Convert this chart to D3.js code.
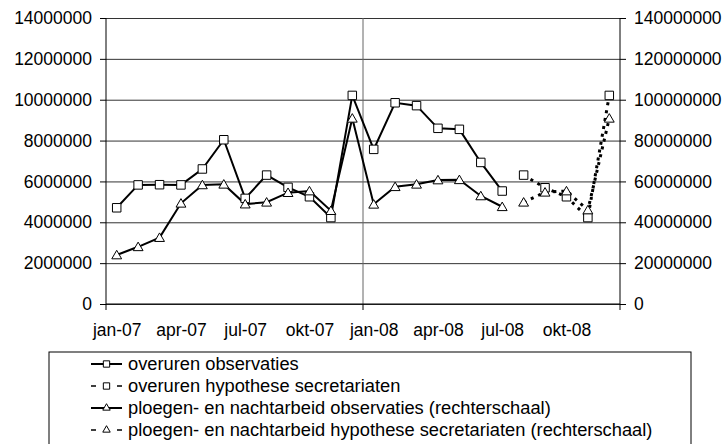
<!DOCTYPE html>
<html lang="nl">
<head>
<meta charset="UTF-8">
<title>Overuren en ploegen- en nachtarbeid</title>
<script src="https://d3js.org/d3.v7.min.js"></script>
<style>
    body { margin: 0; background: #fff; }
    svg text { font-family: "Liberation Sans", Arial, sans-serif; font-size: 17.5px; fill: #000; }
    .legend text { font-size: 18.3px; }
</style>
</head>
<body>
<svg id="chart"></svg>
<script>
    const months = ["jan-07", "feb-07", "mrt-07", "apr-07", "mei-07", "jun-07", "jul-07", "aug-07", "sep-07", "okt-07", "nov-07", "dec-07",
        "jan-08", "feb-08", "mrt-08", "apr-08", "mei-08", "jun-08", "jul-08", "aug-08", "sep-08", "okt-08", "nov-08", "dec-08"];
    const labelMonths = ["jan-07", "apr-07", "jul-07", "okt-07", "jan-08", "apr-08", "jul-08", "okt-08"];
    const leftTicks = [0, 2000000, 4000000, 6000000, 8000000, 10000000, 12000000, 14000000];
    const rightTicks = [0, 20000000, 40000000, 60000000, 80000000, 100000000, 120000000, 140000000];

    // linkerschaal
    const overurenObs = [4710000, 5830000, 5840000, 5830000, 6610000, 8040000, 5170000, 6310000, 5710000, 5250000, 4230000, 10210000,
        7570000, 9850000, 9710000, 8600000, 8550000, 6930000, 5530000, null, null, null, null, null];
    const overurenHyp = [null, null, null, null, null, null, null, null, null, null, null, null,
        null, null, null, null, null, null, null, 6310000, 5690000, 5250000, 4230000, 10210000];
    // rechterschaal
    const ploegenObs = [24000000, 28000000, 32500000, 49300000, 58300000, 58600000, 48900000, 49800000, 54500000, 55300000, 45700000, 90900000,
        48800000, 57400000, 58600000, 60700000, 60800000, 52900000, 47600000, null, null, null, null, null];
    const ploegenHyp = [null, null, null, null, null, null, null, null, null, null, null, null,
        null, null, null, null, null, null, null, 49800000, 54700000, 55300000, 46000000, 90900000];

    const legendLabels = ["overuren observaties", "overuren hypothese secretariaten",
        "ploegen- en nachtarbeid observaties (rechterschaal)", "ploegen- en nachtarbeid hypothese secretariaten (rechterschaal)"];

    const W = 727, H = 444;
    const margin = { top: 18, right: 107, bottom: 140, left: 106 };
    const width = W - margin.left - margin.right,
        height = H - margin.top - margin.bottom;

    const svg = d3.select("#chart").attr("width", W).attr("height", H);
    const g = svg.append("g").attr("transform", "translate(" + margin.left + "," + margin.top + ")");

    const x = d3.scalePoint().domain(months).range([0, width]).padding(0.5);
    const step = x.step();
    const yL = d3.scaleLinear().domain([0, 14000000]).range([height, 0]);
    const yR = d3.scaleLinear().domain([0, 140000000]).range([height, 0]);

    // horizontale rasterlijnen
    g.append("g")
        .call(d3.axisLeft(yL).tickValues(leftTicks).tickSize(-width).tickFormat(""))
        .call(s => s.select(".domain").remove())
        .selectAll("line").attr("stroke", "#333");

    // jaarscheiding
    const yearEdges = [0, 12, 24].map(i => i < 24 ? x(months[i]) - step / 2 : x(months[23]) + step / 2);
    g.append("line")
        .attr("x1", yearEdges[1]).attr("x2", yearEdges[1])
        .attr("y1", 0).attr("y2", height)
        .attr("stroke", "#666");

    // x-as
    g.append("line").attr("x1", 0).attr("x2", width).attr("y1", height).attr("y2", height).attr("stroke", "#000");
    g.selectAll(".ytick").data(yearEdges).enter().append("line")
        .attr("x1", d => d).attr("x2", d => d)
        .attr("y1", height).attr("y2", height + 6)
        .attr("stroke", "#000");
    const xAxis = g.append("g")
        .attr("transform", "translate(0," + height + ")")
        .call(d3.axisBottom(x).tickValues(labelMonths).tickSize(0).tickPadding(20));
    xAxis.select(".domain").remove();

    // linker as
    const la = g.append("g")
        .call(d3.axisLeft(yL).tickValues(leftTicks).tickSize(6).tickPadding(8).tickFormat(d3.format("d")));
    la.select(".domain").attr("d", "M0," + height + "V0").attr("stroke", "#000");

    // rechter as
    const ra = g.append("g")
        .attr("transform", "translate(" + width + ",0)")
        .call(d3.axisRight(yR).tickValues(rightTicks).tickSize(6).tickPadding(8).tickFormat(d3.format("d")));
    ra.select(".domain").attr("d", "M0," + height + "V0").attr("stroke", "#000");
    svg.selectAll(".tick text").attr("font-size", null).attr("font-family", null);

    // lijnen
    const series = [
        { data: overurenObs, y: yL, dash: null, width: 2, marker: "square" },
        { data: overurenHyp, y: yL, dash: "3,5", width: 3, marker: "square" },
        { data: ploegenObs, y: yR, dash: null, width: 2, marker: "triangle" },
        { data: ploegenHyp, y: yR, dash: "3,5", width: 3, marker: "triangle" }
    ];

    const sq = d3.symbol().type(d3.symbolSquare).size(72);
    const tri = d3.symbol().type(d3.symbolTriangle).size(42);

    series.forEach(s => {
        const pts = months.map((m, i) => ({ m: m, v: s.data[i] })).filter(d => d.v != null);
        const line = d3.line().x(d => x(d.m)).y(d => s.y(d.v));
        g.append("path")
            .datum(pts)
            .attr("d", line)
            .attr("fill", "none")
            .attr("stroke", "#000")
            .attr("stroke-width", s.width)
            .attr("stroke-dasharray", s.dash);
    });

    series.forEach(s => {
        const pts = months.map((m, i) => ({ m: m, v: s.data[i] })).filter(d => d.v != null);
        g.selectAll(null).data(pts).enter().append("path")
            .attr("transform", d => "translate(" + x(d.m) + "," + (s.y(d.v) + (s.marker === "triangle" ? 1 : 0)) + ")")
            .attr("d", s.marker === "square" ? sq : tri)
            .attr("fill", "#fff")
            .attr("stroke", "#000")
            .attr("stroke-width", 1);
    });

    // legenda
    const lg = svg.append("g").attr("class", "legend").attr("transform", "translate(49,352)");
    lg.append("rect")
        .attr("x", 0).attr("y", 0)
        .attr("width", 642).attr("height", 120)
        .attr("fill", "#fff").attr("stroke", "#000");

    const rows = lg.selectAll(".row").data(series).enter().append("g")
        .attr("transform", (d, i) => "translate(42," + (12 + i * 22) + ")");
    rows.append("path")
        .attr("d", d => d.dash ? "M0,0H5M26,0H31" : "M0,0H31")
        .attr("stroke", "#000")
        .attr("stroke-width", d => d.dash ? 1.5 : 2);
    rows.append("path")
        .attr("transform", "translate(15.5,0)")
        .attr("d", d => d.marker === "square" ? d3.symbol().type(d3.symbolSquare).size(40)() : d3.symbol().type(d3.symbolTriangle).size(24)())
        .attr("fill", "#fff")
        .attr("stroke", "#000");
    rows.append("text")
        .attr("x", 37)
        .attr("dy", "0.35em")
        .text((d, i) => legendLabels[i]);
</script>
</body>
</html>
